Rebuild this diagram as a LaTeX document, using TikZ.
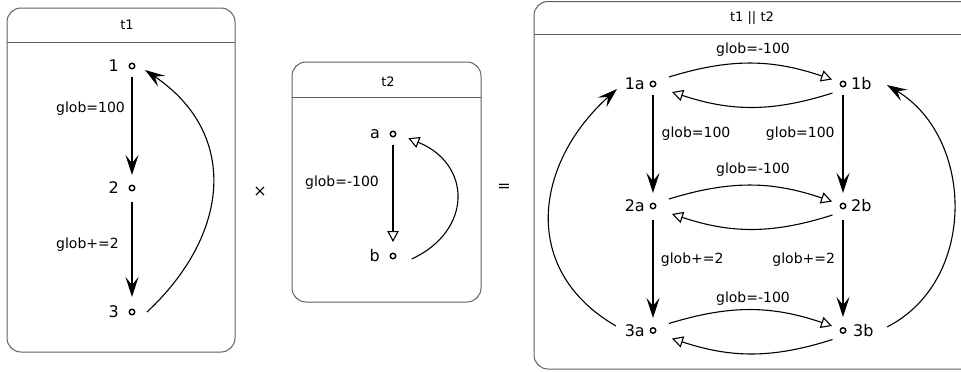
\documentclass[tikz,border=0pt]{standalone}
\usepackage{fontspec}
\setmainfont{DejaVu Sans}
\usetikzlibrary{arrows.meta,calc}
\definecolor{boxgray}{RGB}{95,95,95}
\begin{document}
\begin{tikzpicture}[x=1pt,y=-1pt,
  dot/.style={circle,draw,line width=1.4pt,inner sep=0pt,minimum size=5.5pt},
  boxframe/.style={draw=boxgray,line width=1pt,rounded corners=14pt},
  boxline/.style={draw=boxgray,line width=1pt},
  ttl/.style={font=\fontsize{13}{15}\selectfont,inner sep=0pt},
  lbl/.style={font=\fontsize{14}{16}\selectfont,inner sep=0pt},
  sname/.style={font=\fontsize{16}{18}\selectfont,inner sep=0pt},
  op/.style={font=\fontsize{16}{18}\selectfont,inner sep=0pt},
  trs/.style={line width=1.1pt,-{Stealth[length=20pt,width=13pt,inset=8pt]}},
  tro/.style={line width=1.1pt,-{Triangle[open,length=11pt,width=11.5pt]}}]
\useasboundingbox (0,0) rectangle (961,372);
\clip (0,0) rectangle (961,372);

% ---------- t1 ----------
\draw[boxframe] (7,8) rectangle (235,352);
\draw[boxline] (7,42.5) -- (235,42.5);
\node[ttl] (t1title) at (127,25) {t1};
\node[dot] (n1) at (132,66) {};
\node[dot] (n2) at (132,188) {};
\node[dot] (n3) at (132,312) {};
\node[sname,anchor=east] (l1) at ([xshift=-13pt]n1.center) {1};
\node[sname,anchor=east] (l2) at ([xshift=-13pt]n2.center) {2};
\node[sname,anchor=east] (l3) at ([xshift=-13pt]n3.center) {3};
\draw[trs,shorten <=11pt,shorten >=13pt] (n1.center) -- (n2.center);
\draw[trs,shorten <=14pt,shorten >=15pt] (n2.center) -- (n3.center);
\node[lbl,anchor=west] (e12) at (56,108.3) {glob=100};
\node[lbl,anchor=west] (e23) at (56,245) {glob+=2};
\draw[trs] ([xshift=15pt]n3.center) to[out=43,in=-34,looseness=1.2] ([xshift=13pt,yshift=-4pt]n1.center);

% ---------- operator ----------
\node[op] (times) at (260,192) {×};

% ---------- t2 ----------
\draw[boxframe] (292,62) rectangle (481,302);
\draw[boxline] (292,97) -- (481,97);
\node[ttl] (t2title) at (388,82) {t2};
\node[dot] (na) at (393,134) {};
\node[dot] (nb) at (393,256) {};
\node[sname,anchor=east] (la) at ([xshift=-13pt]na.center) {a};
\node[sname,anchor=east] (lb) at ([xshift=-13pt]nb.center) {b};
\draw[tro,shorten <=11pt,shorten >=14pt] (na.center) -- (nb.center);
\node[lbl] (eab) at (342,183) {glob=-100};
\draw[tro] ([xshift=18.7pt,yshift=-3pt]nb.center) to[out=25,in=-22,looseness=1.44] ([xshift=15.3pt,yshift=-4.3pt]na.center);

% ---------- operator ----------
\node[op] (equals) at (504,188) {=};

% ---------- t1 || t2 ----------
\draw[boxframe] (534,1.5) rectangle (990,369);
\draw[boxline] (534,34.5) -- (990,34.5);
\node[ttl] (pttl) at (752,18) {t1 || t2};
\node[dot] (n1a) at (653,84) {};
\node[dot] (n1b) at (843,84) {};
\node[dot] (n2a) at (653,206) {};
\node[dot] (n2b) at (843,206) {};
\node[dot] (n3a) at (653,330.5) {};
\node[dot] (n3b) at (843,330.5) {};
\node[sname,anchor=east] (l1a) at ([xshift=-8pt]n1a.center) {1a};
\node[sname,anchor=east] (l2a) at ([xshift=-8pt]n2a.center) {2a};
\node[sname,anchor=east] (l3a) at ([xshift=-8pt]n3a.center) {3a};
\node[sname,anchor=west] (l1b) at ([xshift=8pt]n1b.center) {1b};
\node[sname,anchor=west] (l2b) at ([xshift=8pt]n2b.center) {2b};
\node[sname,anchor=west] (l3b) at ([xshift=10pt]n3b.center) {3b};

% vertical transitions
\draw[trs,shorten <=11pt,shorten >=13pt] (n1a.center) -- (n2a.center);
\draw[trs,shorten <=14pt,shorten >=12.5pt] (n2a.center) -- (n3a.center);
\draw[trs,shorten <=11pt,shorten >=13pt] (n1b.center) -- (n2b.center);
\draw[trs,shorten <=14pt,shorten >=13.5pt] (n2b.center) -- (n3b.center);
\node[lbl] (ea12) at (696,133.3) {glob=100};
\node[lbl] (eb12) at (800.3,134) {glob=100};
\node[lbl] (ea23) at (692.2,260) {glob+=2};
\node[lbl] (eb23) at (803.7,260) {glob+=2};

% horizontal transitions
\foreach \r/\ly in {1/50,2/170,3/298.3}{
  \draw[tro] ([xshift=16pt,yshift=7pt]n\r a.center) to[bend left=18] ([xshift=-11pt,yshift=4.5pt]n\r b.center);
  \draw[tro] ([xshift=-10.5pt,yshift=-9pt]n\r b.center) to[bend left=18] ([xshift=19pt,yshift=-8pt]n\r a.center);
  \node[lbl] (h\r) at (753,\ly) {glob=-100};
}

% back transitions
\draw[trs] ([xshift=-37pt,yshift=4.5pt]n3a.center) to[out=150,in=-138,looseness=1.2] ([xshift=-36pt,yshift=-5pt]n1a.center);
\draw[trs] ([xshift=44pt,yshift=3.5pt]n3b.center) to[out=27,in=-31,looseness=1.08] ([xshift=44pt,yshift=-1pt]n1b.center);
\end{tikzpicture}
\end{document}
